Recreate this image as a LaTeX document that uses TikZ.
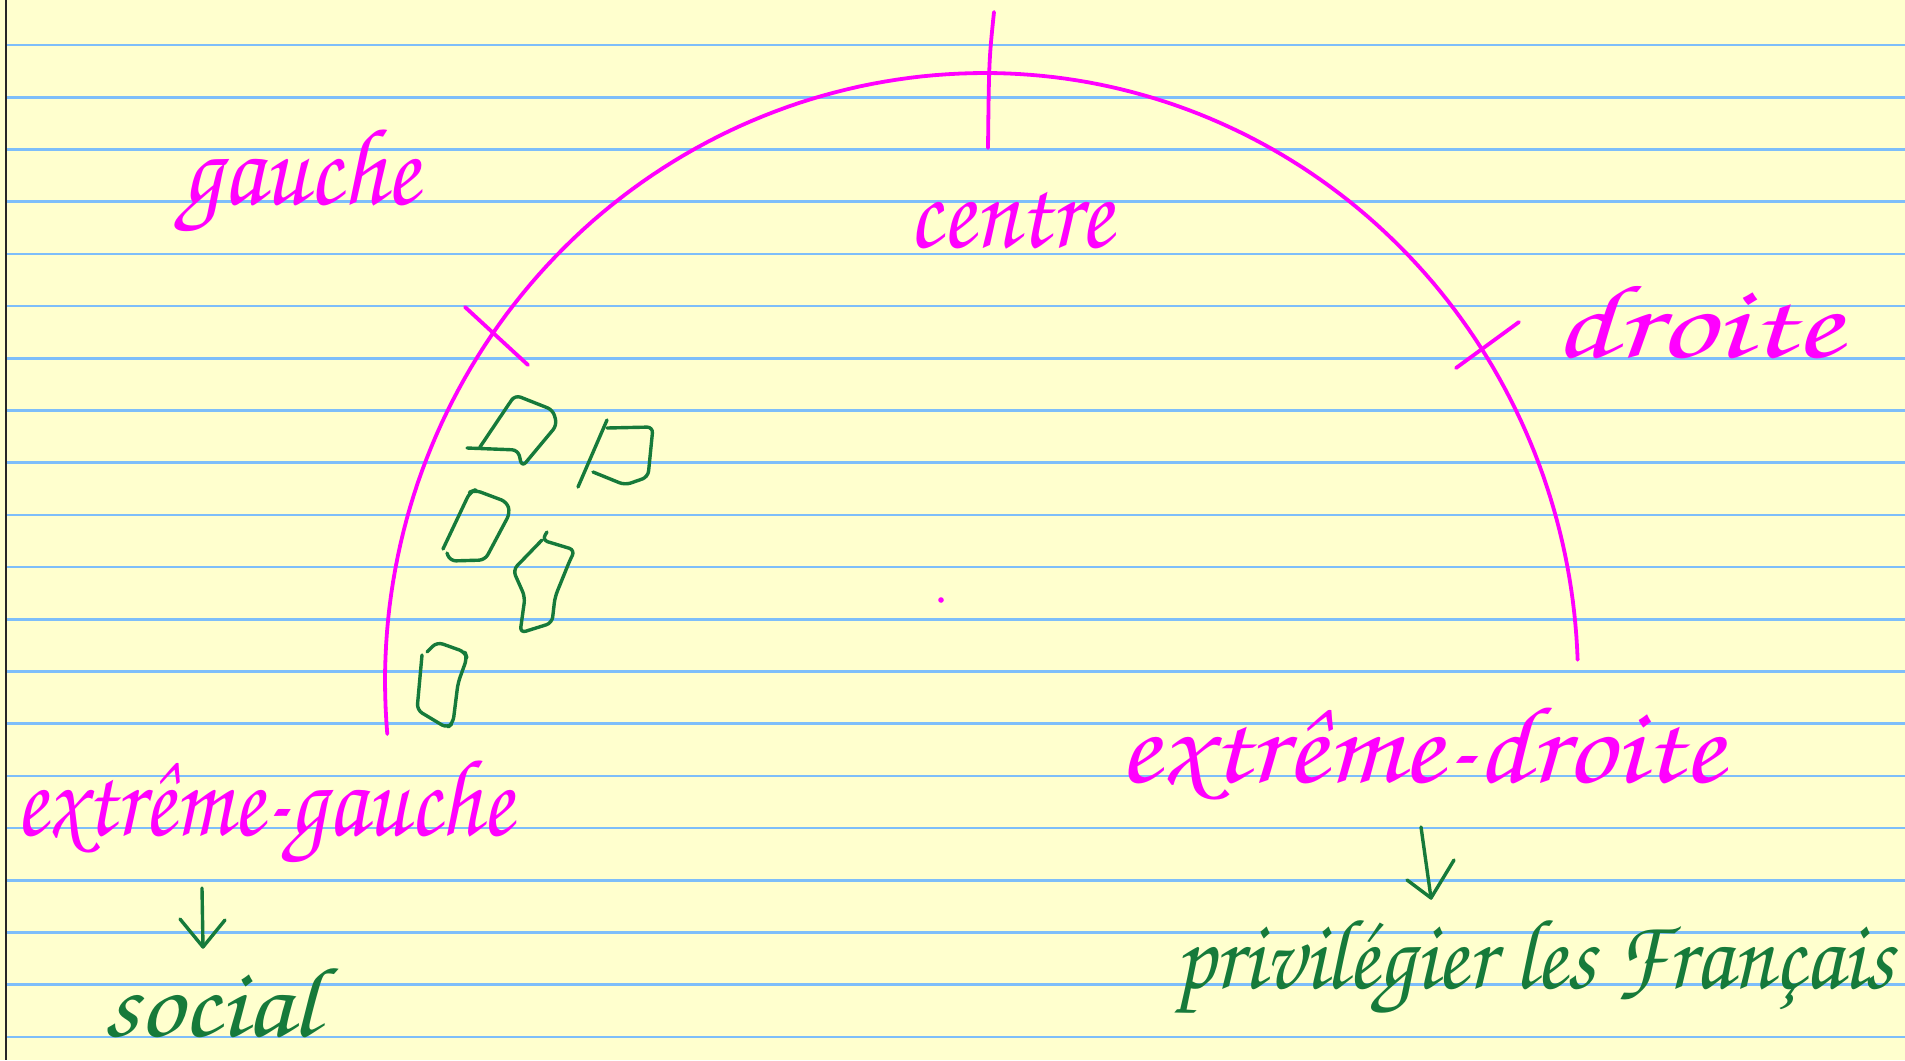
\documentclass[tikz,border=0pt]{standalone}
\usepackage[T1]{fontenc}
\usepackage{graphicx}
\definecolor{paper}{RGB}{255,255,206}
\definecolor{ruleblue}{RGB}{125,190,250}
\definecolor{pinkink}{RGB}{255,0,255}
\definecolor{greenink}{RGB}{22,122,58}
\newcommand\hwfont{\fontfamily{pzc}\fontseries{mb}\fontshape{it}\selectfont}
\newcommand\hw[3]{\resizebox{#1pt}{\height}{\fontsize{#2}{#2}\hwfont #3}}
\begin{document}
\begin{tikzpicture}[x=1pt,y=-1pt,
  pinkline/.style={draw=pinkink, line width=3.8pt, line cap=round, line join=round},
  greenline/.style={draw=greenink, line width=3.4pt, line cap=round, line join=round, rounded corners=6pt},
  pinktext/.style={inner sep=0pt, anchor=base west, text=pinkink},
  greentext/.style={inner sep=0pt, anchor=base west, text=greenink}]
\useasboundingbox (0,0) rectangle (1905,1060);
\fill[paper] (0,0) rectangle (1905,1060);
\foreach \k in {0,...,19} \draw[ruleblue, line width=2.6pt] (7,{45+52.2*\k}) -- (1905,{45+52.2*\k});
\draw[black!85, line width=2.4pt] (6,0) -- (6,1060);

% arc
\draw[pinkline] plot[domain=-5:90, samples=80] ({985-600*cos(\x)},{681-608*sin(\x)})
  -- plot[domain=90:2, samples=80] ({985+593*cos(\x)},{681-608*sin(\x)});
% ticks
\coordinate (ct1) at (994,12); \coordinate (ct2) at (988,148);
\draw[pinkline] (ct1) .. controls (989,60) .. (ct2);
\coordinate (lt1) at (465,307); \coordinate (lt2) at (528,365);
\draw[pinkline] (lt1) -- (lt2);
\coordinate (rt1) at (1456,368); \coordinate (rt2) at (1519,322);
\draw[pinkline] (rt1) -- (rt2);
\fill[pinkink] (941,600) circle (2.8pt);

% labels
\node[pinktext] (gauche) at (182,204) {\hw{237}{110}{gauche}};
\node[pinktext] (centre) at (908,247) {\hw{204}{110}{centre}};
\node[pinktext] (droite) at (1553,357) {\hw{288}{105}{droite}};
\node[pinktext] (exg) at (15,835) {\hw{498}{110}{extr\^eme-gauche}};
\node[pinktext] (exd) at (1118,782) {\hw{605}{110}{extr\^eme-droite}};
\node[greentext] (social) at (103,1036) {\hw{215}{100}{social}};
\node[greentext] (priv) at (1175,988) {\hw{718}{100}{privil\'egier les Fran\c{c}ais}};

% arrows
\coordinate (a1s) at (202,888); \coordinate (a1e) at (203,947);
\coordinate (a1l) at (180,919); \coordinate (a1r) at (225,920);
\draw[greenline] (a1s) -- (a1e);
\draw[greenline, rounded corners=0pt] (a1l) -- (a1e) -- (a1r);
\coordinate (a2s) at (1421,827); \coordinate (a2e) at (1431,898);
\coordinate (a2l) at (1407,880); \coordinate (a2r) at (1454,860);
\draw[greenline] (a2s) -- (a2e);
\draw[greenline, rounded corners=0pt] (a2l) -- (a2e) -- (a2r);

% green seats
\draw[greenline] (467,448) -- (518,450) -- (522,467) -- (557,425) -- (553,410) -- (515,395) -- (480,447);
\draw[greenline] (607,420) -- (578,487);
\draw[greenline] (607,428) -- (653,427) -- (648,477) -- (625,485) -- (593,472);
\draw[greenline] (443,549) -- (470,492) -- (475,490) -- (507,502) -- (510,513) -- (485,560) -- (450,561) -- (447,553);
\draw[greenline] (547,532) -- (542,540) -- (575,550) -- (570,560) -- (555,597) -- (552,623) -- (520,633) -- (525,597) -- (513,570) -- (542,540);
\draw[greenline] (427,652) -- (437,642) -- (465,652) -- (467,658) -- (458,683) -- (453,723) -- (447,728) -- (417,710) -- (422,655);
\end{tikzpicture}
\end{document}
